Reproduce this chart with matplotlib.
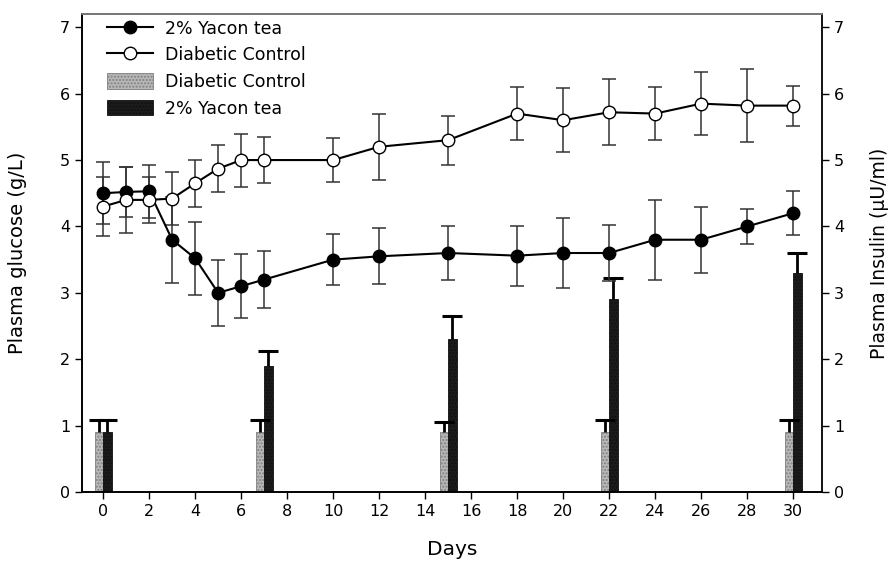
import matplotlib
matplotlib.use("Agg")
import matplotlib.pyplot as plt
from matplotlib.lines import Line2D
from matplotlib.patches import Patch
import numpy as np

plt.rcParams['font.family'] = ['DejaVu Sans']
plt.rcParams['hatch.color'] = '#555555'

days = [0, 1, 2, 3, 4, 5, 6, 7, 10, 12, 15, 18, 20, 22, 24, 26, 28, 30]
yacon_glu = [4.5, 4.52, 4.53, 3.8, 3.52, 3.0, 3.1, 3.2, 3.5, 3.55, 3.6, 3.56, 3.6, 3.6, 3.8, 3.8, 4.0, 4.2]
yacon_glu_err = [0.47, 0.38, 0.4, 0.65, 0.55, 0.5, 0.48, 0.43, 0.38, 0.42, 0.4, 0.45, 0.52, 0.42, 0.6, 0.5, 0.27, 0.33]
ctrl_glu = [4.3, 4.4, 4.4, 4.42, 4.65, 4.87, 5.0, 5.0, 5.0, 5.2, 5.3, 5.7, 5.6, 5.72, 5.7, 5.85, 5.82, 5.82]
ctrl_glu_err = [0.45, 0.5, 0.35, 0.4, 0.35, 0.35, 0.4, 0.35, 0.33, 0.5, 0.37, 0.4, 0.48, 0.5, 0.4, 0.48, 0.55, 0.3]

ins_days = [0, 7, 15, 22, 30]
ctrl_ins = [0.9, 0.9, 0.9, 0.9, 0.9]
ctrl_ins_err = [0.18, 0.18, 0.16, 0.18, 0.18]
yacon_ins = [0.9, 1.9, 2.3, 2.9, 3.3]
yacon_ins_err = [0.18, 0.23, 0.35, 0.32, 0.3]

fig = plt.figure(figsize=(8.95, 5.69), dpi=100)
ax = fig.add_axes([0.0916, 0.1353, 0.8268, 0.8401])
ax2 = ax.twinx()

light_c, light_e = '#b8b8b8', '#808080'
dark_c, dark_e = '#1c1c1c', '#111111'

w = 0.37
xd = np.array(ins_days, dtype=float)
for xs, vals, errs, fc, ec in [(xd - w / 2, ctrl_ins, ctrl_ins_err, light_c, light_e),
                               (xd + w / 2, yacon_ins, yacon_ins_err, dark_c, dark_e)]:
    vals = np.array(vals)
    errs = np.array(errs)
    ax2.bar(xs, vals, width=w, color=fc, edgecolor=ec, linewidth=0.6, hatch='.....', zorder=2)
    ax2.vlines(xs, vals, vals + errs, color='black', lw=2.0, zorder=3)
    ax2.plot(xs, vals + errs, linestyle='none', marker='_', ms=15, mew=2.2, color='black', zorder=3)

ax.errorbar(days, yacon_glu, yerr=yacon_glu_err, fmt='-o', color='black', mfc='black', mec='black',
            ms=9, lw=1.5, ecolor='#333333', elinewidth=1.1, capsize=5, capthick=1.1, zorder=5)
ax.errorbar(days, ctrl_glu, yerr=ctrl_glu_err, fmt='-o', color='black', mfc='white', mec='black',
            ms=9, lw=1.5, ecolor='#333333', elinewidth=1.1, capsize=5, capthick=1.1, zorder=5)

for a in (ax, ax2):
    a.set_ylim(0, 7.2)
    a.set_yticks(range(0, 8))
    a.tick_params(labelsize=11.5, length=5, width=1, direction='out')
    for s in a.spines.values():
        s.set_linewidth(1.2)
ax.set_xlim(-0.92, 31.25)
ax.set_xticks(range(0, 31, 2))
ax.spines['top'].set_color('#888888')
ax2.spines['right'].set_color('#777777')

ax.set_ylabel('Plasma glucose (g/L)', fontsize=14)
ax2.set_ylabel('Plasma Insulin (\u00b5U/ml)', fontsize=13.5)
ax.set_xlabel('Days', fontsize=14.5)
ax.yaxis.set_label_coords(-0.074, 0.5)
ax2.yaxis.set_label_coords(1.065, 0.5)
ax.xaxis.set_label_coords(0.5, -0.1)

ax.set_zorder(ax2.get_zorder() + 1)
ax.patch.set_visible(False)

handles = [
    Line2D([], [], color='black', marker='o', mfc='black', mec='black', ms=9, lw=1.5),
    Line2D([], [], color='black', marker='o', mfc='white', mec='black', ms=9, lw=1.5),
    Patch(facecolor=light_c, edgecolor=light_e, hatch='.....', lw=0.6),
    Patch(facecolor=dark_c, edgecolor=dark_e, hatch='.....', lw=0.6),
]
labels = ['2% Yacon tea', 'Diabetic Control', 'Diabetic Control', '2% Yacon tea']
ax.legend(handles, labels, loc='upper left', frameon=False, fontsize=12.5,
          handlelength=2.6, handleheight=1.0, labelspacing=0.5, borderaxespad=0.0,
          handletextpad=0.7, bbox_to_anchor=(0.025, 1.003))

fig.savefig('out.png', dpi=100)
